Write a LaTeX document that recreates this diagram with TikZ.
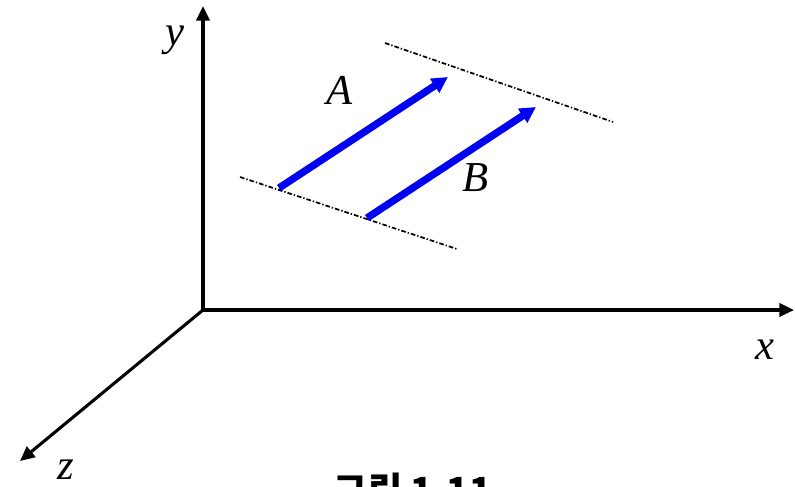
\documentclass[tikz,border=0pt]{standalone}
\usepackage{fontspec}
\setmainfont{Liberation Serif}
\newfontfamily\krfont{Noto Sans CJK KR}
\usetikzlibrary{arrows.meta}
\begin{document}
\begin{tikzpicture}[x=0.75pt,y=-0.75pt,
  axis/.style={line width=2.3pt, -{Triangle[length=11pt,width=10pt]}},
  vec/.style={draw={rgb,255:red,0;green,0;blue,240}, line width=5.5pt, -{Triangle[length=12pt,width=12pt]}},
  guide/.style={line width=1.3pt, dash pattern=on 3.5pt off 1.5pt on 1pt off 1.5pt},
  lab/.style={font=\itshape\fontsize{32}{32}\selectfont, inner sep=0pt}]
\useasboundingbox (0,0) rectangle (795,486);
\coordinate (O) at (203,310);
\coordinate (Y) at (203,6);
\coordinate (X) at (794,310);
\coordinate (Z) at (20,461);
\draw[axis] (O) -- (Y);
\draw[axis] (O) -- (X);
\draw[axis] (O) -- (Z);
\coordinate (L1) at (240,177);
\coordinate (L2) at (457,249);
\coordinate (U1) at (385,43);
\coordinate (U2) at (613,122);
\draw[guide] (L1) -- (L2);
\draw[guide] (U1) -- (U2);
\coordinate (A0) at (279,188);
\coordinate (A1) at (448,77);
\coordinate (B0) at (367,218);
\coordinate (B1) at (536,107);
\draw[vec] (A0) -- (A1);
\draw[vec] (B0) -- (B1);
\node[lab] (ly) at (175,40) {y};
\node[lab] (lx) at (765,350) {x};
\node[lab] (lz) at (66,470) {z};
\node[lab] (la) at (340,90) {A};
\node[lab] (lb) at (476,178) {B};
\node[anchor=north, inner sep=0pt, font=\krfont\bfseries\fontsize{28}{28}\selectfont] (cap) at (413,473) {그림 1.11};
\end{tikzpicture}
\end{document}
